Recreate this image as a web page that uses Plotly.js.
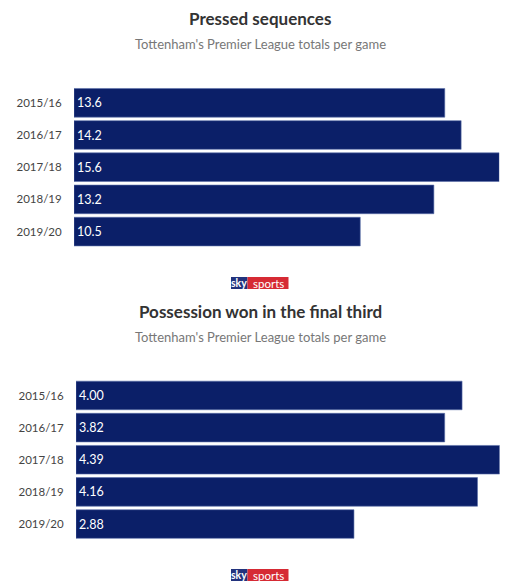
<!DOCTYPE html>
<html>
<head>
<meta charset="utf-8">
<script src="https://cdn.plot.ly/plotly-3.0.1.min.js"></script>
<style>
  html, body { margin: 0; padding: 0; background: #fff; }
  #chart { width: 520px; height: 585px; }
</style>
</head>
<body>
<div id="chart"></div>
<script>
// ---- Data ----
const seasons = ["2015/16", "2016/17", "2017/18", "2018/19", "2019/20"];
const pressedSequences = [13.6, 14.2, 15.6, 13.2, 10.5];
const possessionWonFinalThird = [4.00, 3.82, 4.39, 4.16, 2.88];

const title1 = "Pressed sequences";
const title2 = "Possession won in the final third";
const subtitle = "Tottenham's Premier League totals per game";

// ---- Helpers (pixel -> paper) ----
const W = 520, H = 585;
const px = x => x / W;
const py = y => 1 - y / H;

const FONT = "Lato, 'Open Sans', sans-serif";
const BAR = "#0b1f68";

const traces = [
  {
    type: "bar", orientation: "h",
    y: seasons, x: pressedSequences,
    xaxis: "x", yaxis: "y",
    marker: { color: BAR, line: { color: "#5a6ea8", width: 0.6 } },
    texttemplate: "%{x:.1f}",
    textposition: "inside", insidetextanchor: "start",
    textfont: { color: "#ffffff", size: 12.5, family: FONT },
    constraintext: "none",
    hoverinfo: "skip"
  },
  {
    type: "bar", orientation: "h",
    y: seasons, x: possessionWonFinalThird,
    xaxis: "x2", yaxis: "y2",
    marker: { color: BAR, line: { color: "#5a6ea8", width: 0.6 } },
    texttemplate: "%{x:.2f}",
    textposition: "inside", insidetextanchor: "start",
    textfont: { color: "#ffffff", size: 12.5, family: FONT },
    constraintext: "none",
    hoverinfo: "skip"
  }
];

const yAxisCommon = {
  type: "category",
  autorange: "reversed",
  showgrid: false, zeroline: false, showline: false,
  ticks: "outside", ticklen: 9, tickcolor: "rgba(0,0,0,0)",
  tickfont: { size: 11.5, color: "#444", family: FONT },
  fixedrange: true
};
const xAxisCommon = {
  showgrid: false, zeroline: false, showline: false,
  showticklabels: false, ticks: "", fixedrange: true
};

function logo(yTop, yBot) {
  return [
    { type: "rect", xref: "paper", yref: "paper",
      x0: px(231), x1: px(247.5), y0: py(yBot), y1: py(yTop),
      fillcolor: "#22337d", line: { width: 0 } },
    { type: "rect", xref: "paper", yref: "paper",
      x0: px(247.5), x1: px(288.5), y0: py(yBot), y1: py(yTop),
      fillcolor: "#d62a34", line: { width: 0 } }
  ];
}
function logoText(yTop, yBot) {
  const yc = py((yTop + yBot) / 2);
  return [
    { text: "<b>sky</b>", xref: "paper", yref: "paper",
      x: px(239.2), y: yc, xanchor: "center", yanchor: "middle",
      showarrow: false, font: { size: 10.5, color: "#fff", family: FONT } },
    { text: "sports", xref: "paper", yref: "paper",
      x: px(268), y: yc, xanchor: "center", yanchor: "middle",
      showarrow: false, font: { size: 11.5, color: "#fff", family: FONT } }
  ];
}

const layout = {
  width: W, height: H,
  margin: { l: 0, r: 0, t: 0, b: 0 },
  paper_bgcolor: "#ffffff", plot_bgcolor: "#ffffff",
  showlegend: false,
  bargap: 0.11,
  font: { family: FONT },
  xaxis: Object.assign({}, xAxisCommon, { domain: [px(74), px(499.3)], range: [0, 15.6], anchor: "y" }),
  yaxis: Object.assign({}, yAxisCommon, { domain: [py(247.7), py(86.7)], anchor: "x" }),
  xaxis2: Object.assign({}, xAxisCommon, { domain: [px(76), px(499.7)], range: [0, 4.39], anchor: "y2" }),
  yaxis2: Object.assign({}, yAxisCommon, { domain: [py(540.1), py(379.4)], anchor: "x2" }),
  shapes: [].concat(logo(277, 289), logo(569, 581)),
  annotations: [
    { text: "<b>" + title1 + "</b>", xref: "paper", yref: "paper",
      x: 0.5, y: py(18), xanchor: "center", yanchor: "middle", showarrow: false,
      font: { size: 17, color: "#333", family: FONT } },
    { text: subtitle, xref: "paper", yref: "paper",
      x: 0.5, y: py(44), xanchor: "center", yanchor: "middle", showarrow: false,
      font: { size: 13, color: "#777", family: FONT } },
    { text: "<b>" + title2 + "</b>", xref: "paper", yref: "paper",
      x: 0.5, y: py(311), xanchor: "center", yanchor: "middle", showarrow: false,
      font: { size: 17, color: "#333", family: FONT } },
    { text: subtitle, xref: "paper", yref: "paper",
      x: 0.5, y: py(337), xanchor: "center", yanchor: "middle", showarrow: false,
      font: { size: 13, color: "#777", family: FONT } }
  ].concat(logoText(277, 289), logoText(569, 581))
};

Plotly.newPlot("chart", traces, layout, { displayModeBar: false, staticPlot: true });
</script>
</body>
</html>
